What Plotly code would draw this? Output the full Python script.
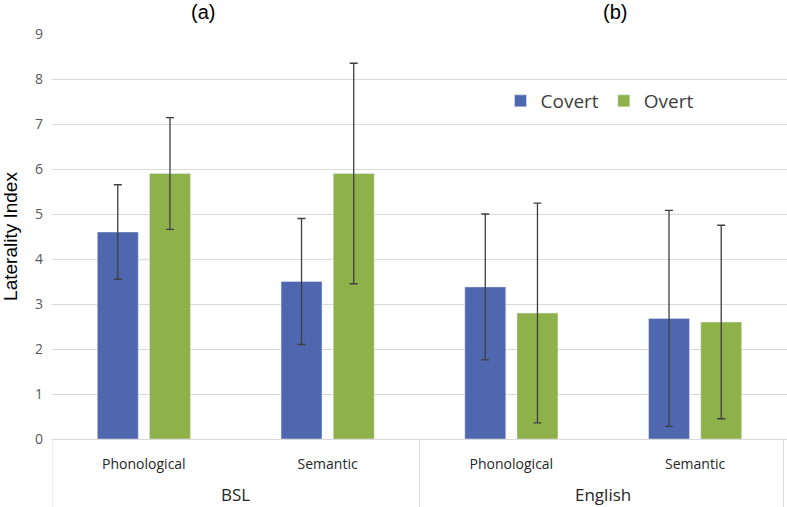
import plotly.graph_objects as go

languages = ["BSL", "BSL", "English", "English"]
tasks = ["Phonological", "Semantic", "Phonological", "Semantic"]
covert = [4.6, 3.5, 3.38, 2.68]
covert_err = [1.05, 1.4, 1.62, 2.4]
overt = [5.9, 5.9, 2.8, 2.6]
overt_err = [1.24, 2.45, 2.44, 2.15]
y_ticks = [0, 1, 2, 3, 4, 5, 6, 7, 8, 9]
panel_titles = ["(a)", "(b)"]

keys = [f"{l}|{t}" for l, t in zip(languages, tasks)]

BLUE = "#4F67AF"
GREEN = "#8EB14A"
ERR = "#3F3F3F"
GRID = "#D9D9D9"

fig = go.Figure()
fig.add_trace(go.Bar(
    x=keys, y=covert, name="Covert", marker_color=BLUE,
    error_y=dict(type="data", array=covert_err, color=ERR, thickness=1.3, width=4),
))
fig.add_trace(go.Bar(
    x=keys, y=overt, name="Overt", marker_color=GREEN,
    error_y=dict(type="data", array=overt_err, color=ERR, thickness=1.3, width=4),
))

L, R, T, B = 52, 0, 34, 68
W, H = 787, 507
pw = W - L - R
ph = H - T - B

def px_x(p):
    return (p - L) / pw

def px_y(p):
    return (H - B - p) / ph

# gap in gridlines between the two panels
fig.add_shape(type="rect", xref="paper", yref="y", x0=px_x(399), x1=px_x(448),
              y0=0.5, y1=9.5, fillcolor="white", line_width=0, layer="below")

unique_langs = []
for l in languages:
    if l not in unique_langs:
        unique_langs.append(l)
bounds = [-0.5]
for lang in unique_langs:
    idx = [i for i, l in enumerate(languages) if l == lang]
    bounds.append(idx[-1] + 0.5)
    fig.add_annotation(x=(idx[0] + idx[-1]) / 2, y=px_y(495), xref="x", yref="paper",
                       text=lang, showarrow=False, yanchor="middle",
                       font=dict(family="Open Sans", size=17, color="#262626"))
for bx in bounds:
    xx = min(bx, len(keys) - 0.52)
    fig.add_shape(type="line", xref="x", yref="paper", x0=xx, x1=xx, y0=0, y1=px_y(H),
                  line=dict(color=GRID, width=1))

# panel titles
title_offsets = [-0.178, 0.064]
for i, lang in enumerate(unique_langs):
    idx = [j for j, l in enumerate(languages) if l == lang]
    fig.add_annotation(x=(idx[0] + idx[-1]) / 2 + title_offsets[i], y=px_y(12),
                       xref="x", yref="paper", text=panel_titles[i], showarrow=False,
                       yanchor="middle",
                       font=dict(family="Liberation Sans", size=20, color="#000000"))

fig.update_layout(
    width=W, height=H,
    margin=dict(l=L, r=R, t=T, b=B),
    plot_bgcolor="white", paper_bgcolor="white",
    barmode="group", bargap=0.432, bargroupgap=0.215,
    legend=dict(orientation="h", x=px_x(600), y=px_y(101), xanchor="center", yanchor="middle",
                font=dict(family="Open Sans", size=19, color="#404040"),
                itemwidth=30, traceorder="normal", bgcolor="rgba(0,0,0,0)"),
    xaxis=dict(
        type="category", tickvals=keys, ticktext=tasks,
        showline=True, linecolor=GRID, linewidth=1, showgrid=False,
        ticks="", ticklabelstandoff=12,
        tickfont=dict(family="Open Sans", size=14, color="#262626"),
        range=[-0.5, len(keys) - 0.5],
    ),
    yaxis=dict(
        range=[0, 9], tickvals=y_ticks, showgrid=True, gridcolor=GRID, gridwidth=1,
        zeroline=False, showline=False, ticks="", ticklabelstandoff=8,
        tickfont=dict(family="Open Sans", size=14, color="#595959"),
        title=dict(text="Laterality Index", standoff=14,
                   font=dict(family="Liberation Sans", size=19, color="#000000")),
    ),
    showlegend=True,
)

fig.write_html("out.html", config={"displayModeBar": False},
               post_script="document.body.style.margin='0';document.body.style.overflow='hidden';")
